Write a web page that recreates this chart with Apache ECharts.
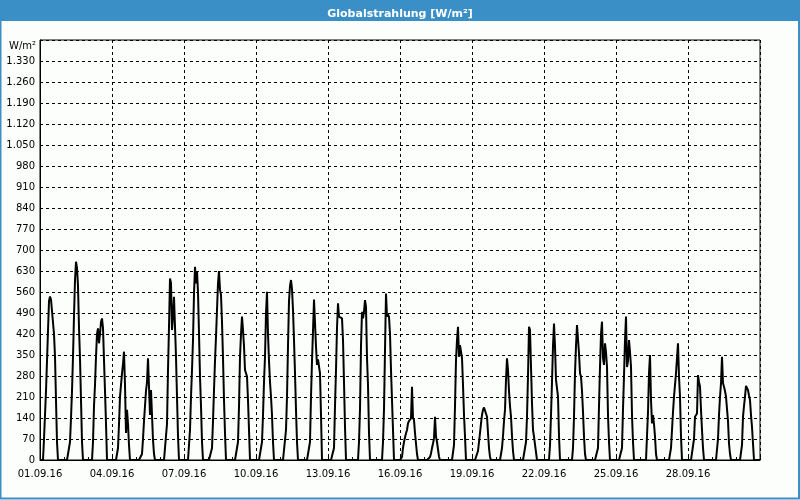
<!DOCTYPE html>
<html><head><meta charset="utf-8">
<script src="https://cdn.jsdelivr.net/npm/echarts@6/dist/echarts.min.js"></script>
<style>html,body{margin:0;padding:0;background:#fcfefc}#c{width:800px;height:500px}</style>
</head><body><div id="c"></div>
<script>
const titleText = 'Globalstrahlung [W/m²]';
const unitLabel = 'W/m²';
const tickLabels = ['01.09.16','04.09.16','07.09.16','10.09.16','13.09.16','16.09.16','19.09.16','22.09.16','25.09.16','28.09.16'];
// hourly values (W/m²), one array per day, hours 0..23
const d01 = [0,0,0,0,70,150,230,330,430,530,545,535,540,530,420,344,200,60,0,0,0,0,0,0];
const d02 = [0,0,0,0,0,0,60,140,230,344,480,600,661,640,580,440,340,200,60,0,0,0,0,0];
const d03 = [0,0,0,0,0,60,180,250,344,420,439,389,420,460,472,440,333,230,122,0,0,0,0,0];
const d04 = [0,0,0,0,0,0,40,120,211,250,289,320,361,250,90,167,120,50,0,0,0,0,0,0];
const d05 = [0,0,0,0,0,0,20,70,130,180,230,260,339,244,150,233,150,67,20,0,0,0,0,0];
const d06 = [0,0,0,0,0,0,0,120,300,444,605,590,433,480,544,540,344,211,80,0,0,0,0,0];
const d07 = [0,0,0,0,0,0,100,211,300,400,555,644,589,630,560,422,278,180,60,0,0,0,0,0];
const d08 = [0,0,0,0,40,130,233,330,411,500,589,630,567,550,460,340,200,89,0,0,0,0,0,0];
const d09 = [0,0,0,0,0,0,60,178,344,420,478,433,380,300,289,278,200,100,0,0,0,0,0,0];
const d10 = [0,0,0,0,0,0,60,150,260,344,489,561,420,330,260,211,150,60,0,0,0,0,0,0];
const d11 = [0,0,0,0,0,0,100,211,380,530,580,600,570,500,400,289,167,60,0,0,0,0,0,0];
const d12 = [0,0,0,0,0,0,60,211,330,430,535,535,378,317,335,333,289,150,0,0,0,0,0,0];
const d13 = [0,0,0,0,0,0,40,180,300,440,522,478,472,472,472,400,260,110,0,0,0,0,0,0];
const d14 = [0,0,0,0,0,0,0,60,170,380,494,472,494,533,510,340,250,90,0,0,0,0,0,0];
const d15 = [0,0,0,0,0,0,0,60,170,367,555,478,485,478,420,300,200,100,0,0,0,0,0,0];
const d16 = [0,0,10,40,60,75,89,100,122,130,135,139,244,140,133,90,55,20,0,0,0,0,0,0];
const d17 = [0,0,0,0,0,0,10,22,40,55,72,144,78,60,35,11,0,0,0,0,0,0,0,0];
const d18 = [0,0,0,0,0,0,50,180,333,400,444,344,383,378,340,250,150,78,0,0,0,0,0,0];
const d19 = [0,0,0,0,0,0,30,60,90,122,150,167,175,175,175,144,90,40,10,0,0,0,0,0];
const d20 = [0,0,0,0,0,0,40,80,130,167,267,339,300,230,180,144,80,30,0,0,0,0,0,0];
const d21 = [0,0,0,0,0,0,60,144,280,444,433,311,189,100,78,75,72,0,0,0,0,0,0,0];
const d22 = [0,0,0,0,0,0,50,150,260,380,455,378,267,267,211,80,0,0,0,0,0,0,0,0];
const d23 = [0,0,0,0,0,40,144,289,380,450,450,356,289,278,230,160,78,20,0,0,0,0,0,0];
const d24 = [0,0,0,0,0,0,40,180,311,420,461,340,317,389,360,311,150,60,0,0,0,0,0,0];
const d25 = [0,0,0,0,0,0,40,170,280,400,478,310,330,400,360,311,150,60,0,0,0,0,0,0];
const d26 = [0,0,0,0,0,0,0,80,160,290,350,200,122,150,120,78,20,0,0,0,0,0,0,0];
const d27 = [0,0,0,0,0,0,0,40,100,160,211,250,289,340,389,278,211,78,0,0,0,0,0,0];
const d28 = [0,0,0,0,0,0,70,144,150,155,283,260,244,167,100,40,0,0,0,0,0,0,0,0];
const d29 = [0,0,0,0,0,0,70,150,210,256,344,256,244,230,211,170,130,55,20,0,0,0,0,0];
const d30 = [0,0,0,0,0,0,50,144,180,211,247,252,233,215,200,150,110,55,0,0,0,0,0,0];

const days = [d01,d02,d03,d04,d05,d06,d07,d08,d09,d10,d11,d12,d13,d14,d15,d16,d17,d18,d19,d20,d21,d22,d23,d24,d25,d26,d27,d28,d29,d30];
const seriesData = [];
days.forEach((arr, di) => arr.forEach((v, h) => seriesData.push([di * 24 + h, v])));
seriesData.push([days.length * 24, 0]);

const blue = '#3b8fc7';
const font = 'DejaVu Sans';
const chart = echarts.init(document.getElementById('c'));
chart.setOption({
  backgroundColor: '#fcfefc',
  animation: false,
  title: { text: titleText, left: 'center', top: 4, textStyle: { color: '#fff', fontSize: 11, fontWeight: 'bold', fontFamily: font } },
  graphic: [
    { type: 'rect', z: -1, silent: true, shape: { x: 0, y: 0, width: 800, height: 21 }, style: { fill: blue } },
    { type: 'rect', silent: true, shape: { x: 0.5, y: 0.5, width: 798.5, height: 498 }, style: { fill: 'none', stroke: blue, lineWidth: 2 } },
    { type: 'text', silent: true, x: 36, y: 46, style: { text: unitLabel, align: 'right', verticalAlign: 'middle', font: '10px "DejaVu Sans"', fill: '#000' } }
  ],
  grid: { left: 40, right: 40, top: 40, bottom: 40, show: true, borderColor: '#000', borderWidth: 1 },
  xAxis: {
    type: 'value', min: 0, max: 720, interval: 72,
    axisLine: { lineStyle: { color: '#000', width: 1 } },
    axisTick: { show: true, inside: true, length: 3, lineStyle: { color: '#000' } },
    minorTick: { show: true, splitNumber: 3, length: 3, lineStyle: { color: '#000' } },
    axisLabel: { margin: 9, color: '#000', fontSize: 10, fontFamily: font, formatter: v => tickLabels[Math.round(v / 72)] || '' },
    splitLine: { show: true, lineStyle: { color: '#000', type: [3, 3], width: 1 } }
  },
  yAxis: {
    type: 'value', min: 0, max: 1400, interval: 70,
    axisLine: { show: true, lineStyle: { color: '#000', width: 1 } },
    axisTick: { show: false },
    axisLabel: { margin: 5, color: '#000', fontSize: 10, fontFamily: font,
      formatter: v => v >= 1400 ? '' : String(v).replace(/\B(?=(\d{3})+(?!\d))/g, '.') },
    splitLine: { show: true, lineStyle: { color: '#000', type: [3, 3], width: 1 } }
  },
  series: [{
    type: 'line', data: seriesData, showSymbol: false, sampling: null,
    lineStyle: { color: '#000', width: 2 }, itemStyle: { color: '#000' }
  }]
});
</script></body></html>
